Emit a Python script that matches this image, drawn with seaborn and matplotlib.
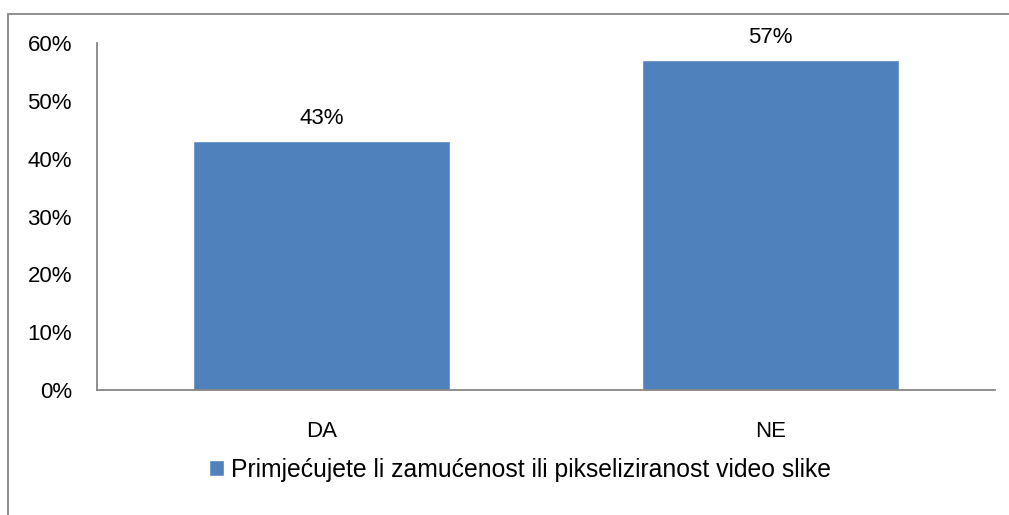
import pandas as pd
import matplotlib.pyplot as plt
import seaborn as sns
from matplotlib.patches import Rectangle
from matplotlib.ticker import PercentFormatter

categories = ['DA', 'NE']
values = [43, 57]
series_name = 'Primjećujete li zamućenost ili pikseliziranost video slike'

df = pd.DataFrame({'odgovor': categories, 'postotak': values, 'serija': series_name})

sns.set_theme(style='white')
plt.rcParams['font.family'] = ['Liberation Sans', 'DejaVu Sans']
plt.rcParams['text.color'] = 'black'

bar_color = '#4F81BD'
line_color = '#868686'

fig = plt.figure(figsize=(10.09, 5.15), dpi=100)
ax = fig.add_axes([0.0961, 0.2427, 0.8899, 0.6738])

sns.barplot(data=df, x='odgovor', y='postotak', hue='serija', palette=[bar_color],
            width=0.572, saturation=1, ax=ax, legend=True)

ax.set_ylim(0, 60)
ax.set_yticks(range(0, 61, 10))
ax.yaxis.set_major_formatter(PercentFormatter(decimals=0))
ax.set_xlim(-0.5, 1.5)
ax.set_xlabel('')
ax.set_ylabel('')
ax.tick_params(axis='both', length=0, labelsize=16, colors='black')
ax.tick_params(axis='y', pad=18)
ax.tick_params(axis='x', pad=22)

for side in ['top', 'right']:
    ax.spines[side].set_visible(False)
for side in ['left', 'bottom']:
    ax.spines[side].set_color(line_color)
    ax.spines[side].set_linewidth(1.3)

for container in ax.containers:
    ax.bar_label(container, labels=[f'{v}%' for v in values], padding=9, fontsize=16,
                 color='black')

leg = ax.legend(loc='center', bbox_to_anchor=(0.471, -0.23), frameon=False, fontsize=17.8,
                handlelength=0.6, handleheight=0.6, handletextpad=0.3)
for t in leg.get_texts():
    t.set_color('black')

fig.patches.append(Rectangle((8 / 1009, -0.05), 1.1, 0.9728 + 0.05, transform=fig.transFigure,
                             fill=False, edgecolor=line_color, linewidth=1.3))

fig.savefig('out.png', dpi=100)
